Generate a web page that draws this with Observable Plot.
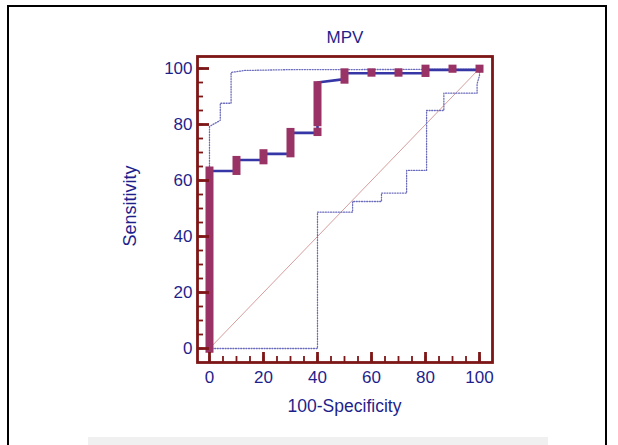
<!DOCTYPE html>
<html>
<head>
<meta charset="utf-8">
<script src="https://cdn.jsdelivr.net/npm/d3@7"></script>
<script src="https://cdn.jsdelivr.net/npm/@observablehq/plot@0.6"></script>
<style>
  html, body { margin: 0; padding: 0; background: #fff; }
  #wrap { position: relative; width: 618px; height: 445px; overflow: hidden; font-family: "Liberation Sans", Arial, sans-serif; color: #1f1f8c; }
  #wrap svg { position: absolute; left: 0; top: 0; }
  .border { position: absolute; left: 7px; top: 5px; width: 600px; height: 460px; border-left: 2px solid #000; border-top: 2px solid #000; border-right: 2px solid #000; box-sizing: border-box; }
  .strip { position: absolute; left: 88px; top: 437px; width: 460px; height: 8px; background: #f0f0f0; }
  .lbl { position: absolute; white-space: nowrap; font-size: 17px; color: #1f1f8c; }
</style>
</head>
<body>
<div id="wrap">
  <div class="border"></div>
  <div class="strip"></div>
</div>
<script>
// ---- data ----
const title = "MPV";
const xLabel = "100-Specificity";
const yLabel = "Sensitivity";

const xMajorTicks = [0, 20, 40, 60, 80, 100];
const yMajorTicks = [0, 20, 40, 60, 80, 100];
const minorTicks = [0, 5, 10, 15, 20, 25, 30, 35, 40, 45, 50, 55, 60, 65, 70, 75, 80, 85, 90, 95, 100];

// ROC curve (step line)
const rocX = [0, 0, 10, 10, 20, 20, 30, 30, 40, 40, 50, 50, 80, 80, 100];
const rocY = [0, 63.4, 63.4, 67.3, 67.3, 69.5, 69.5, 77, 77, 95, 96.2, 98.3, 98.3, 99.5, 99.5];

// point markers (vertical bars)
const markerX  = [0, 10, 20, 30, 40, 40, 50, 60, 70, 80, 90, 100];
const markerLo = [-1.7, 61.8, 65.6, 68.1, 79.2, 75.7, 94.4, 96.9, 96.9, 96.8, 98.3, 98.3];
const markerHi = [64.8, 68.6, 71.0, 78.6, 95.3, 78.7, 99.9, 99.9, 99.9, 101.2, 101.2, 101.2];

// upper confidence bound
const upX = [0, 0, 4, 4, 8, 8, 13, 30, 100, 100];
const upY = [0, 79.3, 81.5, 87.6, 87.6, 98.6, 99.3, 99.6, 99.7, 100];

// lower confidence bound
const loX = [0, 40, 40, 53, 53, 63.7, 63.7, 73, 73, 80.4, 80.4, 86.8, 86.8, 99.1, 99.1, 100, 100];
const loY = [0, 0, 48.7, 48.7, 52.5, 52.5, 55.5, 55.5, 63.6, 63.6, 85, 85, 91.2, 91.2, 94.5, 97.5, 100];

// reference diagonal
const diagX = [0, 100];
const diagY = [0, 100];

// ---- build tables ----
const zip = (xs, ys) => xs.map((x, i) => ({x, y: ys[i]}));
const roc = zip(rocX, rocY);
const upper = zip(upX, upY);
const lower = zip(loX, loY);
const diag = zip(diagX, diagY);
const markers = markerX.map((x, i) => ({x, lo: markerLo[i], hi: markerHi[i]}));

const frameColor = "#7d1616";
const textColor = "#1f1f8c";
const markerColor = "#993366";
const lineColor = "#3636a6";
const bandColor = "#6c6cbc";

const W = 618, H = 445, mL = 197, mR = 126, mT = 56, mB = 83;
const frameW = W - mL - mR, frameH = H - mT - mB;

const chart = Plot.plot({
  width: W,
  height: H,
  marginLeft: mL,
  marginRight: mR,
  marginTop: mT,
  marginBottom: mB,
  style: {background: "transparent", fontFamily: "Liberation Sans, Arial, sans-serif", fontSize: "17px", overflow: "visible"},
  x: {domain: [-4.44, 104.81], axis: null},
  y: {domain: [-5.0, 104.29], axis: null},
  marks: [
    Plot.line(diag, {x: "x", y: "y", stroke: "#d39292", strokeWidth: 0.9}),
    Plot.line(upper, {x: "x", y: "y", stroke: bandColor, strokeWidth: 1.3, strokeDasharray: "1,1.6"}),
    Plot.line(lower, {x: "x", y: "y", stroke: bandColor, strokeWidth: 1.3, strokeDasharray: "1,1.6"}),
    Plot.line(roc, {x: "x", y: "y", stroke: lineColor, strokeWidth: 2.6}),
    Plot.ruleX(markers, {x: "x", y1: "lo", y2: "hi", stroke: markerColor, strokeWidth: 8}),
    // inward tick marks (short rules hanging off the frame edges)
    Plot.ruleX(minorTicks, {x: d => d, insetTop: frameH - 6, stroke: frameColor, strokeWidth: 1.8}),
    Plot.ruleX(xMajorTicks, {x: d => d, insetTop: frameH - 10, stroke: frameColor, strokeWidth: 2.8}),
    Plot.ruleY(minorTicks, {y: d => d, insetRight: frameW - 6, stroke: frameColor, strokeWidth: 1.8}),
    Plot.ruleY(yMajorTicks, {y: d => d, insetRight: frameW - 12, stroke: frameColor, strokeWidth: 2.8}),
    // tick labels
    Plot.axisX(xMajorTicks, {anchor: "bottom", tickSize: 0, tickPadding: 8, fill: textColor, fontSize: 17, tickFormat: d => String(d), label: null}),
    Plot.axisY(yMajorTicks, {anchor: "left", tickSize: 0, tickPadding: 5, fill: textColor, fontSize: 17, tickFormat: d => String(d), label: null}),
    Plot.frame({stroke: frameColor, strokeWidth: 2.8})
  ]
});

const wrap = document.getElementById("wrap");
wrap.appendChild(chart);

function addLabel(text, cx, cy, size, rotate) {
  const s = document.createElement("div");
  s.className = "lbl";
  s.textContent = text;
  s.style.fontSize = size + "px";
  s.style.left = cx + "px";
  s.style.top = cy + "px";
  s.style.transform = "translate(-50%, -50%)" + (rotate ? " rotate(" + rotate + "deg)" : "");
  wrap.appendChild(s);
}
addLabel(title, 345, 38, 17, 0);
addLabel(xLabel, 344.5, 406, 17.5, 0);
addLabel(yLabel, 130, 206, 18, -90);
</script>
</body>
</html>
